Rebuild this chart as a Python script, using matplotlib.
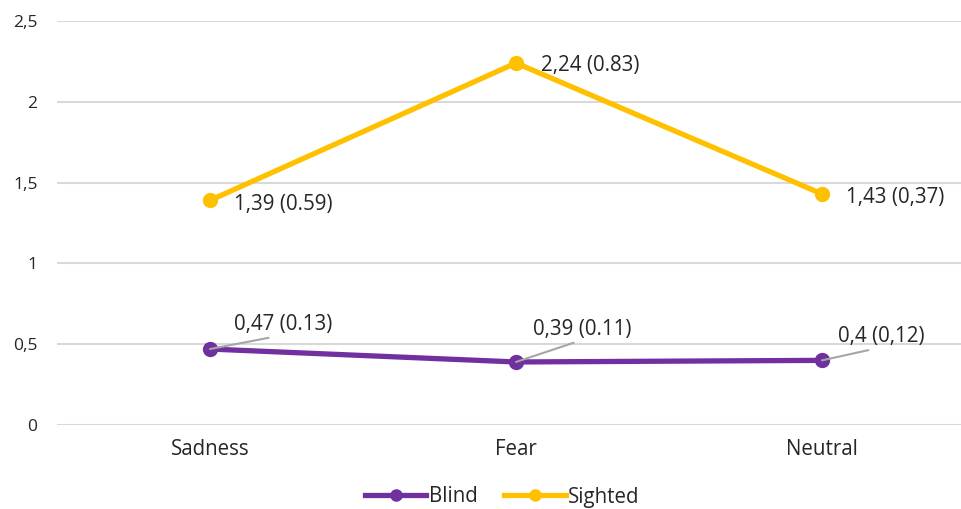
#!/usr/bin/env python3
"""
Line chart: mean scores per emotion for blind vs sighted participants
"""

import matplotlib
matplotlib.use('Agg')
import matplotlib.pyplot as plt
from matplotlib.lines import Line2D

plt.rcParams['font.family'] = ['Open Sans', 'DejaVu Sans']

# Data
categories = ['Sadness', 'Fear', 'Neutral']
blind = [0.47, 0.39, 0.40]
sighted = [1.39, 2.24, 1.43]
blind_labels = ['0,47 (0.13)', '0,39 (0.11)', '0,4 (0,12)']
sighted_labels = ['1,39 (0.59)', '2,24 (0.83)', '1,43 (0,37)']
y_ticks = [0, 0.5, 1, 1.5, 2, 2.5]
y_tick_labels = ['0', '0,5', '1', '1,5', '2', '2,5']

purple = '#7030A0'
yellow = '#FFC000'
text_color = '#262626'
px = 0.72  # pixels -> points at dpi 100
fs = 14.8

fig = plt.figure(figsize=(9.62, 5.09), dpi=100)
ax = fig.add_axes([57 / 962, 84 / 509, 918 / 962, 404 / 509])

x = list(range(len(categories)))
ax.plot(x, blind, '-o', color=purple, linewidth=3.8, markersize=10, zorder=3)
ax.plot(x, sighted, '-o', color=yellow, linewidth=3.8, markersize=10, zorder=3)

ax.set_xlim(-0.5, 2.5)
ax.set_ylim(0, 2.5)
ax.set_yticks(y_ticks)
ax.set_yticklabels(y_tick_labels)
ax.set_xticks(x)
ax.set_xticklabels(categories)
ax.tick_params(axis='y', length=0, pad=14, labelsize=12.5, labelcolor=text_color)
ax.tick_params(axis='x', length=0, pad=10, labelsize=fs, labelcolor=text_color)
ax.grid(axis='y', color='#d9d9d9', linewidth=1.5)
ax.set_axisbelow(True)
for s in ax.spines.values():
    s.set_visible(False)

# Sighted labels, right of the points
sighted_offsets = [(24, -4), (25, -2), (24, -4)]
for i, (val, lab) in enumerate(zip(sighted, sighted_labels)):
    dx, dy = sighted_offsets[i]
    ax.annotate(lab, (i, val), xytext=(dx * px, dy * px), textcoords='offset points',
                ha='left', va='center', fontsize=fs, color=text_color)

# Blind labels with leader lines
blind_offsets = [(73, 14), (66, 22), (59, 13)]
for i, (val, lab) in enumerate(zip(blind, blind_labels)):
    dx, dy = blind_offsets[i]
    ax.annotate(lab, (i, val), xytext=(dx * px, dy * px), textcoords='offset points',
                ha='center', va='bottom', fontsize=fs, color=text_color,
                arrowprops=dict(arrowstyle='-', color='#a6a6a6', lw=1.5,
                                shrinkA=0, shrinkB=0, relpos=(0.5, 0)))

handles = [
    Line2D([0], [0], color=purple, lw=3.8, marker='o', markersize=8),
    Line2D([0], [0], color=yellow, lw=3.8, marker='o', markersize=8),
]
fig.legend(handles, ['Blind', 'Sighted'], loc='center', ncol=2, frameon=False,
           bbox_to_anchor=(502 / 962, 12 / 509), handlelength=3.0,
           handletextpad=0.1, columnspacing=1.3, fontsize=fs,
           labelcolor=text_color)

fig.savefig('out.png', dpi=100)
